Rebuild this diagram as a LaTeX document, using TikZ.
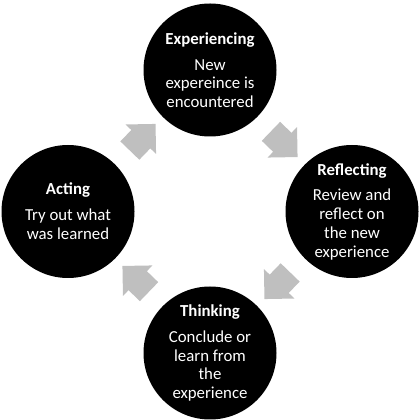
\documentclass[tikz,border=0pt]{standalone}
\usepackage{fontspec}
\setmainfont{Carlito}
\usetikzlibrary{shapes.arrows}
\definecolor{arrowgray}{HTML}{BFBFBF}
\begin{document}
\begin{tikzpicture}[x=1pt,y=1pt,
  stage/.style={circle,fill=black,minimum size=133pt,inner sep=0pt,
    text=white,align=center,font=\fontsize{16.8}{18.7}\selectfont},
  cyclearrow/.style={single arrow,fill=arrowgray,draw=none,minimum height=37pt,
    inner xsep=0pt,inner ysep=13pt,single arrow head extend=8pt}]
\useasboundingbox (0,0) rectangle (420,420);

\node[stage] (experiencing) at (210,350) {\textbf{Experiencing}\\[7.3pt] New\\ expereince is\\ encountered};
\node[stage] (reflecting) at (352,208.5) {\textbf{Reflecting}\\[7.3pt] Review and\\ reflect on\\ the new\\ experience};
\node[stage] (thinking) at (210,67) {\textbf{Thinking}\\[7.3pt] Conclude or\\ learn from\\ the\\ experience};
\node[stage] (acting) at (68,208.5) {\textbf{Acting}\\[7.3pt] Try out what\\ was learned};

\node[cyclearrow,rotate=-44] (toreflect) at (279.5,280.4) {};
\node[cyclearrow,rotate=-134] (tothink) at (281.9,139) {};
\node[cyclearrow,rotate=136] (toact) at (140.5,136.6) {};
\node[cyclearrow,rotate=46] (toexperience) at (138.1,278) {};
\end{tikzpicture}
\end{document}
